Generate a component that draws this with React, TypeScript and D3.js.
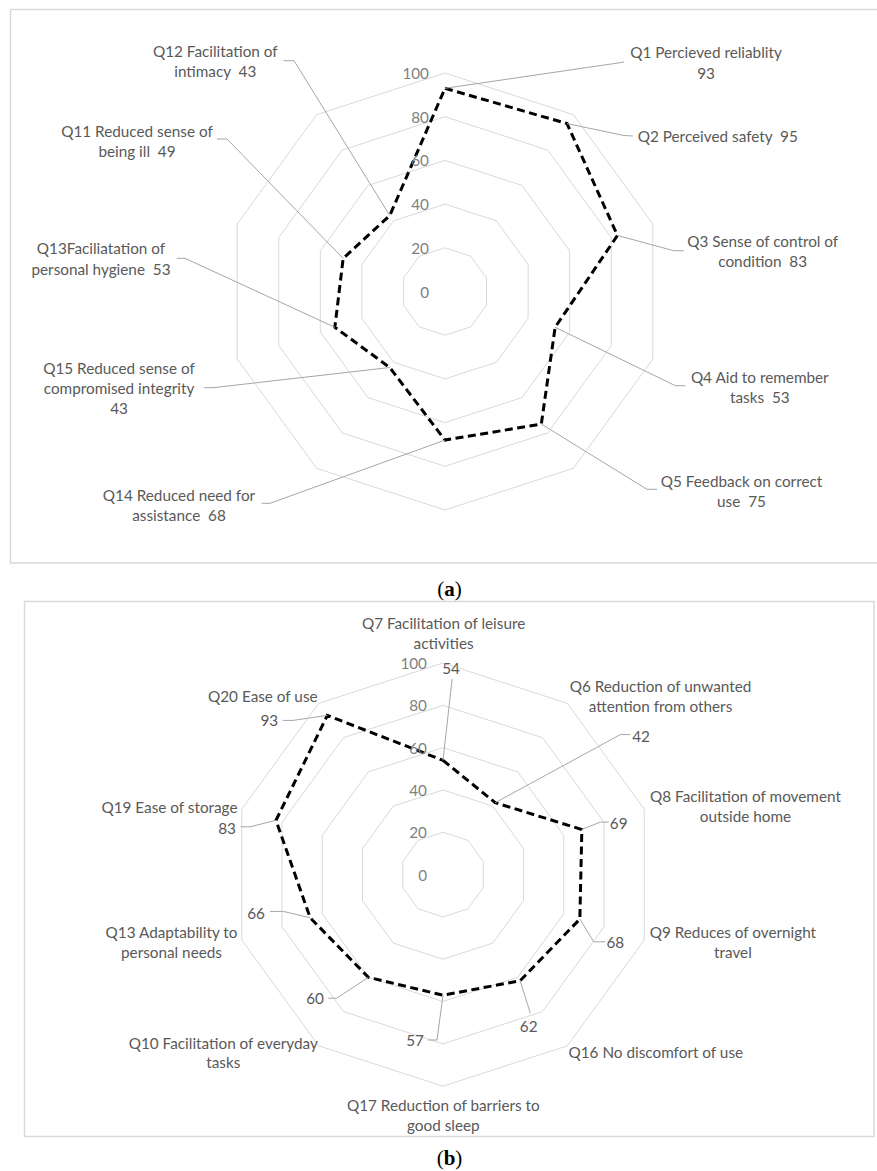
import React from "react";
import * as d3 from "d3";

// ---------- data ----------
const categoriesA = [
  "Q1 Percieved reliablity",
  "Q2 Perceived safety",
  "Q3 Sense of control of condition",
  "Q4 Aid to remember tasks",
  "Q5 Feedback on correct use",
  "Q14 Reduced need for assistance",
  "Q15 Reduced sense of compromised integrity",
  "Q13Faciliatation of personal hygiene",
  "Q11 Reduced sense of being ill",
  "Q12 Facilitation of intimacy",
];
const valuesA = [93, 95, 83, 53, 75, 68, 43, 53, 49, 43];

const categoriesB = [
  "Q7 Facilitation of leisure activities",
  "Q6 Reduction of unwanted attention from others",
  "Q8 Facilitation of movement outside home",
  "Q9 Reduces of overnight travel",
  "Q16 No discomfort of use",
  "Q17 Reduction of barriers to good sleep",
  "Q10 Facilitation of everyday tasks",
  "Q13 Adaptability to personal needs",
  "Q19 Ease of storage",
  "Q20 Ease of use",
];
const valuesB = [54, 42, 69, 68, 62, 57, 60, 66, 83, 93];

const tickValues = [0, 20, 40, 60, 80, 100];
const captions = ["a", "b"];

// ---------- layout (positions only) ----------
type Leader = [number, number, number, number];
// panel (a): combined "name  value" labels
const layoutA: { x: number; y: number; wrap: number[]; leader: Leader }[] = [
  { x: 706, y: 52.3, wrap: [3, 1], leader: [624, 62, 618, 63] },
  { x: 717.8, y: 136, wrap: [4], leader: [633, 136, 624, 135.5] },
  { x: 762.7, y: 241, wrap: [5, 2], leader: [683.7, 250.7, 673.7, 250.7] },
  { x: 759.8, y: 376.7, wrap: [4, 2], leader: [685.3, 385.7, 675.3, 385.7] },
  { x: 741.5, y: 480.7, wrap: [4, 2], leader: [657, 489.3, 647, 489.3] },
  { x: 179, y: 495, wrap: [4, 2], leader: [261.7, 503.3, 270, 503.3] },
  { x: 119, y: 367.7, wrap: [4, 2, 1], leader: [204, 387.7, 213, 387.7] },
  { x: 101, y: 248.3, wrap: [2, 3], leader: [176.7, 258.3, 185, 258.3] },
  { x: 137, y: 130.7, wrap: [4, 3], leader: [217, 139, 227, 139] },
  { x: 215.3, y: 51, wrap: [3, 2], leader: [283.5, 60.7, 294, 60.7] },
];
// panel (b): names and values placed separately
const nameLayoutB: { x: number; y: number; wrap: number[] }[] = [
  { x: 443.6, y: 623.3, wrap: [4, 1] },
  { x: 660.5, y: 685.7, wrap: [4, 3] },
  { x: 745.5, y: 796.4, wrap: [4, 2] },
  { x: 732.9, y: 932.1, wrap: [4, 1] },
  { x: 655.8, y: 1051.8, wrap: [5] },
  { x: 443.3, y: 1105, wrap: [5, 2] },
  { x: 223.3, y: 1042.5, wrap: [4, 1] },
  { x: 171.5, y: 932.1, wrap: [3, 2] },
  { x: 169.5, y: 806.8, wrap: [4] },
  { x: 262.8, y: 696, wrap: [4] },
];
const valueLayoutB: { x: number; y: number; leader: Leader }[] = [
  { x: 451, y: 668, leader: [452, 679, 452, 680] },
  { x: 641, y: 735.7, leader: [630.3, 734.6, 620.3, 734.6] },
  { x: 618.7, y: 822.9, leader: [608.7, 822.1, 600.3, 822.1] },
  { x: 615.3, y: 941.8, leader: [605.3, 941.8, 593.7, 941.8] },
  { x: 528.7, y: 1026.4, leader: [530.3, 1013.2, 530, 1012] },
  { x: 415, y: 1040, leader: [428, 1040, 437, 1040] },
  { x: 315, y: 998.2, leader: [328.3, 998.2, 336.7, 998.2] },
  { x: 256, y: 912.5, leader: [270, 911.4, 283.3, 911.4] },
  { x: 227, y: 828.2, leader: [240.7, 826.8, 250, 826.8] },
  { x: 269.3, y: 720.4, leader: [282.7, 720.4, 293, 720.4] },
];

const FONT = "Lato, 'Open Sans', sans-serif";
const LABEL_COLOR = "#595959";
const TICK_COLOR = "#7f7f7f";
const GRID_COLOR = "#d9d9d9";
const LEADER_COLOR = "#a6a6a6";
const FS = 15.3;

function wrapTokens(tokens: string[], wrap: number[], valueToken?: string): string[] {
  const lines: string[] = [];
  let k = 0;
  wrap.forEach((cnt) => {
    const part = tokens.slice(k, k + cnt);
    k += cnt;
    let s = "";
    part.forEach((t, j) => {
      if (j === 0) s = t;
      else if (valueToken !== undefined && k - cnt + j === tokens.length - 1) s += "\u00A0\u00A0" + t;
      else s += " " + t;
    });
    lines.push(s);
  });
  return lines;
}

function Radar(props: { cx: number; cy: number; R: number; values: number[] }) {
  const { cx, cy, R, values } = props;
  const n = values.length;
  const r = d3.scaleLinear().domain([0, 100]).range([0, R]);
  const ang = d3.scaleLinear().domain([0, n]).range([0, 2 * Math.PI]);
  const ringGen = (v: number) =>
    d3
      .lineRadial<number>()
      .angle((d) => ang(d))
      .radius(() => r(v))
      .curve(d3.curveLinearClosed)(d3.range(n)) as string;
  const dataPath = d3
    .lineRadial<number>()
    .angle((_, i) => ang(i))
    .radius((d) => r(d))
    .curve(d3.curveLinearClosed)(values) as string;
  return (
    <g>
      <g transform={`translate(${cx},${cy})`}>
        {tickValues
          .filter((t) => t > 0)
          .map((t) => (
            <path key={t} d={ringGen(t)} fill="none" stroke={GRID_COLOR} strokeWidth={1} />
          ))}
        <path
          d={dataPath}
          fill="none"
          stroke="#000"
          strokeWidth={3}
          strokeDasharray="8,4.5"
          strokeLinejoin="miter"
        />
      </g>
      {tickValues.map((t) => (
        <text
          key={t}
          x={cx - 16}
          y={cy - r(t)}
          textAnchor="end"
          dominantBaseline="central"
          fontFamily={FONT}
          fontSize={FS}
          fill={TICK_COLOR}
        >
          {t}
        </text>
      ))}
    </g>
  );
}

function pointOf(cx: number, cy: number, R: number, n: number, i: number, v: number): [number, number] {
  const r = d3.scaleLinear().domain([0, 100]).range([0, R]);
  const a = (i / n) * 2 * Math.PI;
  return [cx + r(v) * Math.sin(a), cy - r(v) * Math.cos(a)];
}

function MultiText(props: { x: number; y: number; lines: string[]; lh: number }) {
  const { x, y, lines, lh } = props;
  return (
    <g>
      {lines.map((l, i) => (
        <text
          key={i}
          x={x}
          y={y + i * lh}
          textAnchor="middle"
          dominantBaseline="central"
          fontFamily={FONT}
          fontSize={FS}
          fill={LABEL_COLOR}
        >
          {l}
        </text>
      ))}
    </g>
  );
}

function Caption(props: { x: number; y: number; letter: string }) {
  return (
    <text
      x={props.x}
      y={props.y}
      textAnchor="middle"
      fontFamily="'Liberation Serif', 'DejaVu Serif', serif"
      fontSize={21}
      fill="#000"
    >
      (<tspan fontWeight="bold">{props.letter}</tspan>)
    </text>
  );
}

export default function App() {
  const A = { cx: 445, cy: 291.5, R: 218.5 };
  const B = { cx: 443, cy: 874.6, R: 211.6 };
  const nA = valuesA.length;
  const nB = valuesB.length;
  return (
    <svg
      width={877}
      height={1171}
      style={{ position: "absolute", left: 0, top: 0, background: "#fff" }}
    >
      <rect x={0} y={0} width={877} height={1171} fill="#fff" />
      <rect x={10.5} y={9.5} width={880} height={553.5} fill="none" stroke={GRID_COLOR} strokeWidth={1.5} />
      <rect x={24.5} y={601.5} width={849.5} height={535} fill="none" stroke={GRID_COLOR} strokeWidth={1.5} />

      <Radar cx={A.cx} cy={A.cy} R={A.R} values={valuesA} />
      {categoriesA.map((c, i) => {
        const L = layoutA[i];
        const [px, py] = pointOf(A.cx, A.cy, A.R, nA, i, valuesA[i]);
        const tokens = [...c.split(" "), String(valuesA[i])];
        const lines = wrapTokens(tokens, L.wrap, String(valuesA[i]));
        return (
          <g key={c}>
            <polyline
              points={`${L.leader[0]},${L.leader[1]} ${L.leader[2]},${L.leader[3]} ${px},${py}`}
              fill="none"
              stroke={LEADER_COLOR}
              strokeWidth={1}
            />
            <MultiText x={L.x} y={L.y} lines={lines} lh={20.3} />
          </g>
        );
      })}

      <Radar cx={B.cx} cy={B.cy} R={B.R} values={valuesB} />
      {categoriesB.map((c, i) => {
        const N = nameLayoutB[i];
        const V = valueLayoutB[i];
        const [px, py] = pointOf(B.cx, B.cy, B.R, nB, i, valuesB[i]);
        const lines = wrapTokens(c.split(" "), N.wrap);
        return (
          <g key={c}>
            <polyline
              points={`${V.leader[0]},${V.leader[1]} ${V.leader[2]},${V.leader[3]} ${px},${py}`}
              fill="none"
              stroke={LEADER_COLOR}
              strokeWidth={1}
            />
            <MultiText x={N.x} y={N.y} lines={lines} lh={19.8} />
            <text
              x={V.x}
              y={V.y}
              textAnchor="middle"
              dominantBaseline="central"
              fontFamily={FONT}
              fontSize={FS}
              fill={LABEL_COLOR}
            >
              {valuesB[i]}
            </text>
          </g>
        );
      })}

      <Caption x={449.5} y={596} letter={captions[0]} />
      <Caption x={449.5} y={1165} letter={captions[1]} />
    </svg>
  );
}
